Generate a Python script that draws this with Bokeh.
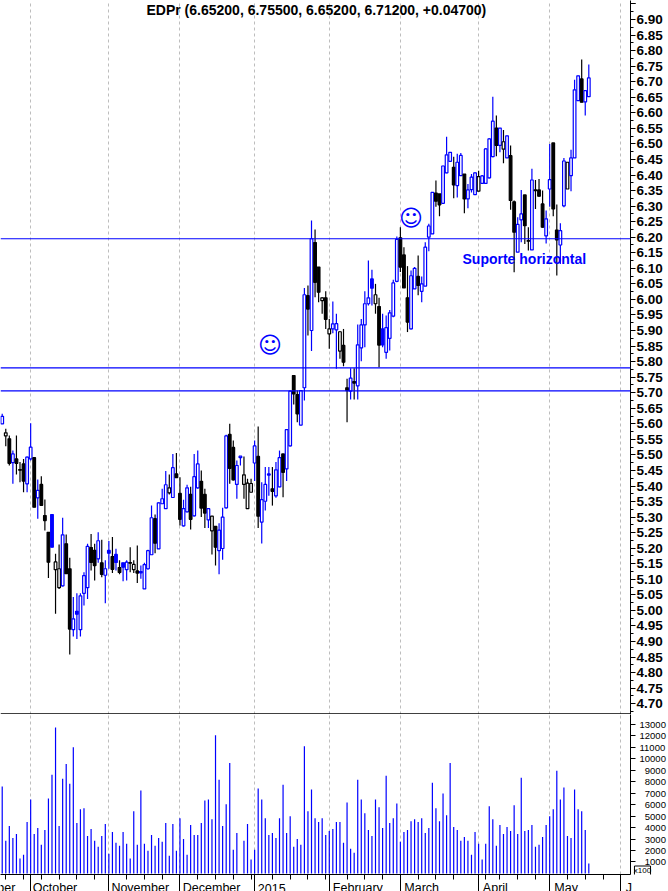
from bokeh.plotting import figure
from bokeh.layouts import column
from bokeh.models import ColumnDataSource, FixedTicker, Label, Range1d, Span, NumeralTickFormatter
from bokeh.core.properties import value
from bokeh.embed import file_html
from bokeh.resources import INLINE

TITLE = "EDPr (6.65200, 6.75500, 6.65200, 6.71200, +0.04700)"
opens = [5.600,5.561,5.552,5.475,5.487,5.453,5.471,5.407,5.487,5.491,5.362,5.405,5.305,5.251,5.308,5.131,5.073,5.079,5.214,5.134,
 4.938,4.997,4.938,5.055,5.073,5.202,5.193,5.166,5.153,5.113,5.193,5.173,5.180,5.138,5.153,5.131,5.154,5.131,5.127,5.125,
 5.069,5.134,5.179,5.295,5.198,5.343,5.327,5.378,5.363,5.439,5.376,5.272,5.317,5.373,5.304,5.394,5.415,5.373,5.291,5.256,
 5.270,5.192,5.199,5.330,5.566,5.524,5.405,5.491,5.405,5.327,5.380,5.474,5.495,5.284,5.351,5.439,5.391,5.368,5.397,5.503,
 5.455,5.529,5.755,5.694,5.596,5.716,6.012,5.900,6.183,6.104,5.996,6.005,5.889,5.905,5.902,5.834,5.852,5.716,5.705,5.736,
 5.722,5.844,5.918,5.986,6.066,5.986,5.977,5.905,5.830,5.875,5.946,6.058,6.198,6.143,6.005,5.905,6.034,6.074,6.026,6.043,
 6.200,6.211,6.342,6.339,6.309,6.407,6.444,6.425,6.366,6.398,6.403,6.323,6.353,6.337,6.348,6.373,6.373,6.391,6.459,6.551,
 6.495,6.483,6.455,6.462,6.314,6.152,6.256,6.336,6.189,6.159,6.352,6.352,6.307,6.204,6.355,6.503,6.223,6.175,6.301,6.355,
 6.398,6.455,6.639,6.709,6.635,6.652]
highs = [5.632,5.584,5.562,5.514,5.562,5.477,5.487,5.495,5.602,5.491,5.421,5.431,5.357,5.252,5.308,5.182,5.212,5.298,5.244,5.169,
 5.043,5.055,5.055,5.123,5.214,5.246,5.214,5.251,5.227,5.161,5.223,5.236,5.198,5.161,5.153,5.161,5.203,5.161,5.209,5.144,
 5.153,5.195,5.337,5.308,5.348,5.391,5.448,5.437,5.503,5.506,5.428,5.356,5.404,5.398,5.503,5.514,5.450,5.391,5.327,5.303,
 5.270,5.280,5.330,5.565,5.600,5.546,5.482,5.496,5.495,5.423,5.423,5.546,5.591,5.412,5.461,5.461,5.461,5.477,5.514,5.503,
 5.581,5.707,5.755,5.707,5.709,6.037,6.045,6.254,6.225,6.104,6.007,6.026,5.937,5.993,5.954,5.898,5.905,5.745,5.779,5.779,
 5.919,5.937,6.026,6.125,6.095,6.050,6.005,5.954,5.948,5.966,6.063,6.202,6.232,6.168,6.107,6.093,6.104,6.141,6.074,6.184,
 6.243,6.344,6.382,6.339,6.430,6.523,6.473,6.459,6.468,6.471,6.403,6.371,6.403,6.409,6.414,6.400,6.486,6.518,6.652,6.591,
 6.551,6.545,6.527,6.495,6.318,6.264,6.352,6.336,6.232,6.420,6.384,6.387,6.350,6.286,6.500,6.503,6.305,6.245,6.455,6.441,
 6.481,6.706,6.720,6.771,6.671,6.755]
lows = [5.600,5.528,5.466,5.407,5.437,5.412,5.380,5.380,5.482,5.332,5.295,5.337,5.257,5.104,5.203,4.989,5.069,5.077,5.118,4.858,
 4.916,4.908,4.916,5.016,5.037,5.128,5.096,5.153,5.107,5.023,5.134,5.120,5.128,5.116,5.094,5.096,5.123,5.120,5.088,5.102,
 5.069,5.131,5.178,5.184,5.198,5.343,5.327,5.373,5.362,5.427,5.273,5.270,5.316,5.260,5.302,5.391,5.300,5.265,5.265,5.180,
 5.144,5.116,5.163,5.328,5.407,5.418,5.359,5.466,5.359,5.327,5.380,5.416,5.265,5.215,5.321,5.369,5.337,5.362,5.396,5.364,
 5.416,5.527,5.662,5.605,5.595,5.675,5.884,5.834,6.007,5.991,5.954,5.905,5.841,5.891,5.777,5.809,5.785,5.605,5.678,5.678,
 5.678,5.801,5.846,5.980,5.980,5.954,5.782,5.846,5.809,5.836,5.943,6.055,6.088,6.037,5.895,5.903,6.034,6.013,5.991,6.043,
 6.155,6.211,6.298,6.267,6.309,6.406,6.444,6.325,6.328,6.398,6.277,6.293,6.344,6.336,6.348,6.372,6.372,6.389,6.457,6.460,
 6.473,6.438,6.455,6.288,6.087,6.152,6.184,6.178,6.157,6.159,6.291,6.330,6.230,6.180,6.298,6.267,6.077,6.114,6.296,6.355,
 6.348,6.455,6.639,6.634,6.591,6.652]
closes = [5.624,5.571,5.473,5.503,5.473,5.451,5.416,5.493,5.525,5.332,5.386,5.338,5.289,5.155,5.203,5.156,5.134,5.243,5.118,4.940,
 4.973,4.988,5.047,5.112,5.206,5.154,5.144,5.224,5.116,5.134,5.184,5.132,5.154,5.122,5.139,5.155,5.152,5.148,5.120,5.121,
 5.147,5.192,5.298,5.216,5.346,5.359,5.404,5.394,5.459,5.427,5.293,5.327,5.394,5.293,5.430,5.471,5.329,5.313,5.327,5.303,
 5.203,5.258,5.300,5.561,5.457,5.420,5.466,5.496,5.436,5.409,5.408,5.529,5.303,5.356,5.405,5.435,5.383,5.452,5.491,5.444,
 5.581,5.705,5.696,5.632,5.707,6.015,5.969,6.195,6.055,6.023,6.005,5.936,5.905,5.921,5.922,5.896,5.798,5.707,5.747,5.731,
 5.854,5.918,5.986,6.005,6.036,6.015,5.853,5.854,5.909,5.957,6.053,6.193,6.104,6.037,5.927,6.076,6.100,6.045,6.050,6.168,
 6.236,6.344,6.316,6.304,6.429,6.465,6.473,6.368,6.441,6.463,6.323,6.352,6.393,6.407,6.395,6.397,6.484,6.516,6.573,6.495,
 6.551,6.507,6.526,6.318,6.216,6.241,6.275,6.237,6.187,6.384,6.350,6.332,6.232,6.259,6.385,6.291,6.191,6.221,6.445,6.441,
 6.455,6.674,6.719,6.634,6.671,6.712]
volumes = [7569,2838,4128,3096,3440,1290,1634,4473,6451,3440,3956,2494,3784,6537,8601,12729,4128,8257,9547,7827,
 11009,4387,5591,5677,3268,3870,2838,2322,3268,4300,1720,3612,2666,2408,3612,2580,1290,5419,2494,7225,
 2580,1978,3354,2408,3096,2752,4387,1548,4300,1978,4817,3010,1634,4214,3354,3354,4387,6365,6451,4731,
 12041,8171,4128,6021,9633,2064,3526,0,2838,4300,1204,2064,7397,6451,4817,3354,3526,3096,4817,7741,
 3526,4989,2322,3010,2494,11095,5419,7311,4817,4473,4817,3354,3698,3870,4473,4473,2666,6193,2150,1806,
 8171,6451,5247,3784,3268,6451,5763,3956,8515,4387,4817,6107,2752,3612,3784,4559,4731,4473,4817,3526,
 3956,7913,5677,4559,6967,5075,9633,4042,3784,2838,3182,2838,1634,3612,2580,1204,2580,5849,4731,2408,
 4214,3440,4042,3698,5935,3440,8343,3698,3784,4214,2322,2494,3182,4214,4989,5591,8945,6451,7483,3268,
 3096,7311,5591,5419,3784,860]

month_names = ["September","October","November","December","2015","February","March","April","May","J"]
month_index = [-14,8,30,50,71,92,112,134,154,174]
week_index = [1,6,11,16,21,26,35,40,45,55,60,65,70,76,81,86,91,97,102,107,117,122,127,136,140,145,150,159,164,169]
support_levels = [6.195,5.78,5.706]
smiley_index = [75.3,115.0]
smiley_price = [5.855,6.263]
note_text = "Suporte horizontal"
price_ticks = [round(4.70+0.05*k,2) for k in range(46)]
vol_ticks = [1000*k for k in range(1,14)]

BLUE="#0000ff"; BLACK="#000000"; GRID="#bdbdbd"; FONT="Liberation Sans"
idx=list(range(len(closes)))
prev=[None]+closes[:-1]
col=[BLUE if (p is None or c>p) else BLACK for c,p in zip(closes,prev)]
fill=["#ffffff" if c>o else k for c,o,k in zip(closes,opens,col)]
src=ColumnDataSource(dict(x=idx,o=opens,h=highs,l=lows,c=closes,col=col,fill=fill,
    top=[max(a,b) for a,b in zip(opens,closes)],bot=[min(a,b) for a,b in zip(opens,closes)],v=volumes,zero=[0]*len(idx)))

xr=Range1d(-0.483,176.73)
top=figure(width=668,height=714,x_range=xr,y_range=Range1d(4.6653,6.9611),output_backend="svg",toolbar_location=None,
    y_axis_location="right",min_border_left=0,min_border_right=35,min_border_top=0,min_border_bottom=0,outline_line_color=None)
top.xaxis.visible=False
top.ygrid.visible=False
top.xgrid.ticker=FixedTicker(ticks=month_index)
top.xgrid.grid_line_color=GRID; top.xgrid.grid_line_dash="3 3"; top.xgrid.grid_line_width=1
ya=top.yaxis[0]
ya.ticker=FixedTicker(ticks=price_ticks+[6.95],minor_ticks=[round(4.675+0.05*k,3) for k in range(46)])
ya.formatter=NumeralTickFormatter(format="0.00")
ya.major_label_overrides={6.95:""}
ya.major_label_text_font=FONT; ya.major_label_text_font_style="bold"; ya.major_label_text_font_size="13.5px"; ya.major_label_text_color=BLACK
ya.major_label_standoff=1; ya.major_tick_out=5; ya.major_tick_in=0; ya.minor_tick_out=3; ya.minor_tick_in=0
ya.axis_line_color=BLACK; ya.major_tick_line_color=BLACK; ya.minor_tick_line_color=BLACK; ya.major_tick_line_width=1
top.segment("x","l","x","h",source=src,line_color="col",line_width=1.2)
top.vbar(x="x",width=0.75,top="top",bottom="bot",source=src,fill_color="fill",line_color="col",line_width=1.2)
for lv in support_levels:
    top.add_layout(Span(location=lv,dimension="width",line_color=BLUE,line_width=1.2))
top.add_layout(Span(location=4.667,dimension="width",line_color=BLACK,line_width=1.5))
top.text(x=smiley_index,y=smiley_price,text=["\u263a","\u263a"],text_align="center",text_baseline="middle",
    text_color=BLUE,text_font=value("DejaVu Sans"),text_font_size="23px")
top.add_layout(Label(x=462,y=714-258,x_units="screen",y_units="screen",text=note_text,text_color=BLUE,text_font=FONT,
    text_font_style="bold",text_font_size="14px",text_baseline="alphabetic"))
top.add_layout(Label(x=146,y=714-9,x_units="screen",y_units="screen",text=TITLE,text_color=BLACK,text_font=FONT,
    text_font_style="bold",text_font_size="14px",text_baseline="alphabetic"))

bot=figure(width=668,height=177,x_range=xr,y_range=Range1d(-95,13858),output_backend="svg",toolbar_location=None,
    y_axis_location="right",min_border_left=0,min_border_right=35,min_border_top=0,min_border_bottom=17,outline_line_color=None)
bot.ygrid.visible=False
bot.xgrid.ticker=FixedTicker(ticks=month_index)
bot.xgrid.grid_line_color=GRID; bot.xgrid.grid_line_dash="3 3"
bot.segment("x","zero","x","v",source=src,line_color=BLUE,line_width=1.2)
xa=bot.xaxis[0]
xa.ticker=FixedTicker(ticks=month_index,minor_ticks=week_index)
xa.major_label_overrides={i:"" for i in month_index}; xa.major_label_standoff=0
xa.major_tick_out=17; xa.major_tick_in=0; xa.minor_tick_out=5; xa.minor_tick_in=0
xa.axis_line_color=BLACK; xa.major_tick_line_color=BLACK; xa.minor_tick_line_color=BLACK
ya2=bot.yaxis[0]
ya2.ticker=FixedTicker(ticks=vol_ticks,minor_ticks=[])
ya2.major_label_overrides={t:"\u2007"*(5-len(str(t)))+str(t) for t in vol_ticks}
ya2.major_label_text_font=FONT; ya2.major_label_text_font_size="9.5px"; ya2.major_label_text_color=BLACK
ya2.major_label_standoff=4
ya2.major_tick_out=5; ya2.major_tick_in=0; ya2.axis_line_color=BLACK; ya2.major_tick_line_color=BLACK

# transparent strip over the bottom 27 px of the page, for the month names and the x100 box
strip=figure(width=668,height=27,x_range=Range1d(-0.483,186.53),y_range=Range1d(27,0),output_backend="svg",toolbar_location=None,
    min_border=0,outline_line_color=None,background_fill_alpha=0,border_fill_alpha=0,x_axis_location=None,y_axis_location=None)
strip.grid.visible=False
strip.text(x=month_index,y=[23.5]*len(month_index),text=month_names,x_offset=2,text_font=value(FONT),text_font_size="12.5px",
    text_color=BLACK,text_baseline="alphabetic",text_align="left")
strip.multi_line(xs=[[177.0,177.0,181.5,181.5]],ys=[[10,1.5,1.5,10]],line_color=BLACK,line_width=1)
strip.text(x=[179.25],y=[5.8],text=["x100"],text_font=value(FONT),text_font_size="8px",text_color=BLACK,
    text_baseline="middle",text_align="center")
strip.styles={"position":"absolute","left":"0px","top":"864px"}

root=column(top,bot,spacing=0)
root.styles={"position":"absolute","left":"0px","top":"0px"}
open("out.html","w").write(file_html([root,strip],INLINE))
